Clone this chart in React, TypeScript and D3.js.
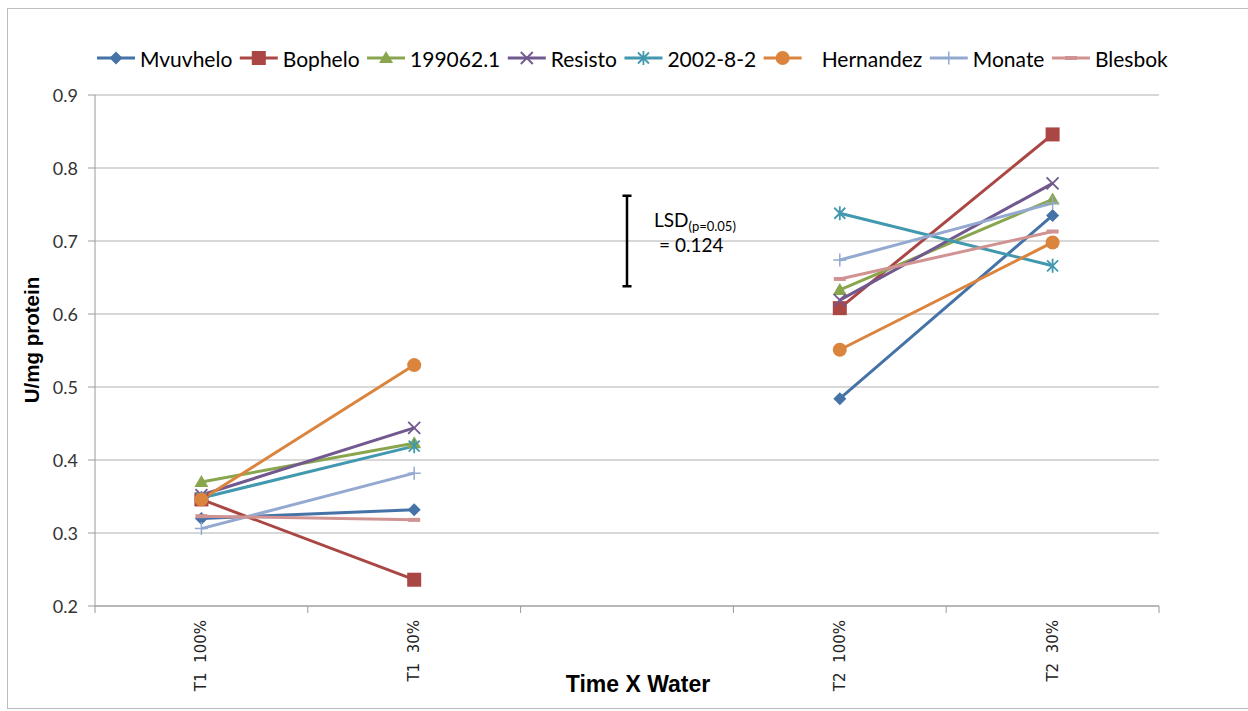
import React from "react";
import * as d3 from "d3";

// Category slots along the x axis (the blank slot separates the two times)
const categories = ["T1  100%", "T1  30%", "", "T2  100%", "T2  30%"];
const yTicks = [0.2, 0.3, 0.4, 0.5, 0.6, 0.7, 0.8, 0.9];

// Enzyme activity (U/mg protein) per cultivar, one value per category slot
const mvuvhelo = [0.32, 0.332, null, 0.484, 0.735];
const bophelo = [0.346, 0.236, null, 0.608, 0.846];
const line199062 = [0.37, 0.423, null, 0.633, 0.757];
const resisto = [0.352, 0.444, null, 0.619, 0.779];
const line2002 = [0.348, 0.419, null, 0.738, 0.666];
const hernandez = [0.346, 0.53, null, 0.551, 0.698];
const monate = [0.306, 0.382, null, 0.674, 0.752];
const blesbok = [0.323, 0.318, null, 0.648, 0.713];

const seriesNames = ["Mvuvhelo", "Bophelo", "199062.1", "Resisto", "2002-8-2", "Hernandez", "Monate", "Blesbok"];
const seriesValues = [mvuvhelo, bophelo, line199062, resisto, line2002, hernandez, monate, blesbok];
const seriesColors = ["#4572A7", "#AA4643", "#89A54E", "#71588F", "#4198AF", "#DB843D", "#93A9CF", "#D19392"];
const seriesMarkers = ["diamond", "square", "triangle", "x", "star", "circle", "plus", "dash"];

// Least significant difference bar
const lsdValue = 0.124;
const lsdCenter = 0.7;

const W = 1248;
const H = 711;
const plot = { left: 95, right: 1159, top: 95, bottom: 606 };

function Marker({ type, x, y, color }: { type: string; x: number; y: number; color: string }) {
  switch (type) {
    case "diamond": {
      const r = 6.5;
      return <path d={`M${x},${y - r}L${x + r},${y}L${x},${y + r}L${x - r},${y}Z`} fill={color} />;
    }
    case "square":
      return <rect x={x - 7} y={y - 7} width={14} height={14} fill={color} />;
    case "triangle":
      return <path d={`M${x},${y - 7}L${x + 7},${y + 5}L${x - 7},${y + 5}Z`} fill={color} />;
    case "x": {
      const r = 6;
      return (
        <path d={`M${x - r},${y - r}L${x + r},${y + r}M${x - r},${y + r}L${x + r},${y - r}`} stroke={color} strokeWidth={1.8} />
      );
    }
    case "star": {
      const r = 5.5;
      return (
        <path
          d={`M${x - r},${y - r}L${x + r},${y + r}M${x - r},${y + r}L${x + r},${y - r}M${x},${y - 7}L${x},${y + 7}`}
          stroke={color}
          strokeWidth={1.8}
        />
      );
    }
    case "circle":
      return <circle cx={x} cy={y} r={7} fill={color} />;
    case "plus": {
      const r = 6.5;
      return <path d={`M${x - r},${y}L${x + r},${y}M${x},${y - r}L${x},${y + r}`} stroke={color} strokeWidth={1.5} />;
    }
    case "dash":
      return <rect x={x - 6} y={y - 2} width={12} height={4} fill={color} />;
    default:
      return null;
  }
}

function measure(text: string, font: string): number {
  const ctx = document.createElement("canvas").getContext("2d");
  if (!ctx) return text.length * 9;
  ctx.font = font;
  return ctx.measureText(text).width;
}

export default function App() {
  const x = d3
    .scaleBand<number>()
    .domain(d3.range(categories.length))
    .range([plot.left, plot.right])
    .paddingInner(0)
    .paddingOuter(0);
  const bw = x.bandwidth();
  const cx = (i: number) => (x(i) as number) + bw / 2;
  const y = d3.scaleLinear().domain([0.2, 0.9]).range([plot.bottom, plot.top]);

  const line = d3
    .line<number | null>()
    .defined((v) => v != null)
    .x((_, i) => cx(i))
    .y((v) => y(v as number));

  // Legend laid out left to right from measured text widths
  const legendSize = 21;
  const legendFont = `${legendSize}px Lato`;
  const legendItems: { name: string; lx: number; tx: number; color: string; marker: string }[] = [];
  let cursor = 97;
  seriesNames.forEach((name, i) => {
    const extra = name === "Hernandez" ? 15 : 0;
    const tx = cursor + 43 + extra;
    legendItems.push({ name, lx: cursor, tx, color: seriesColors[i], marker: seriesMarkers[i] });
    cursor = tx + measure(name, legendFont) + 7.5;
  });
  const legendY = 58;

  const lsdTop = y(lsdCenter + lsdValue / 2);
  const lsdBottom = y(lsdCenter - lsdValue / 2);
  const lsdX = 627;

  return (
    <div style={{ position: "absolute", left: 0, top: 0 }}>
      <svg width={W} height={H} style={{ display: "block", background: "#fff" }}>
        <rect x={7.5} y={8.5} width={1300} height={700} fill="none" stroke="#BDBDBD" strokeWidth={1} />

        {/* gridlines */}
        {yTicks.map((t) => (
          <line key={t} x1={plot.left} x2={plot.right} y1={y(t)} y2={y(t)} stroke="#B0B0B0" strokeWidth={1} />
        ))}
        {/* y axis */}
        <line x1={plot.left} x2={plot.left} y1={plot.top} y2={plot.bottom} stroke="#9A9A9A" strokeWidth={1} />
        {yTicks.map((t) => (
          <g key={"yt" + t}>
            <line x1={plot.left - 7} x2={plot.left} y1={y(t)} y2={y(t)} stroke="#9A9A9A" />
            <text
              x={78}
              y={y(t)}
              textAnchor="end"
              dominantBaseline="central"
              fontFamily="Lato, 'Open Sans', sans-serif"
              fontSize={18}
              fill="#333"
            >
              {t.toFixed(1)}
            </text>
          </g>
        ))}
        {/* x axis */}
        <line x1={plot.left} x2={plot.right} y1={plot.bottom} y2={plot.bottom} stroke="#9A9A9A" strokeWidth={1} />
        {d3.range(categories.length + 1).map((i) => {
          const xx = i < categories.length ? (x(i) as number) : plot.right;
          return <line key={"xt" + i} x1={xx} x2={xx} y1={plot.bottom} y2={plot.bottom + 7} stroke="#9A9A9A" />;
        })}
        {categories.map((c, i) =>
          c ? (
            <text
              key={"xl" + i}
              transform={`translate(${cx(i)},620) rotate(-90)`}
              textAnchor="end"
              dominantBaseline="central"
              fontFamily="'DejaVu Sans', Verdana, sans-serif"
              fontSize={15}
              fill="#222"
              style={{ whiteSpace: "pre" }}
            >
              {c}
            </text>
          ) : null
        )}

        {/* axis titles */}
        <text
          transform="translate(39,340) rotate(-90)"
          textAnchor="middle"
          fontFamily="'Liberation Sans', Arial, sans-serif"
          fontWeight="bold"
          fontSize={20.5}
          fill="#000"
        >
          U/mg protein
        </text>
        <text
          x={638}
          y={692}
          textAnchor="middle"
          fontFamily="'Liberation Sans', Arial, sans-serif"
          fontWeight="bold"
          fontSize={23}
          fill="#000"
        >
          Time X Water
        </text>

        {/* series lines */}
        {seriesValues.map((vals, si) => (
          <path
            key={"l" + si}
            d={line(vals) || ""}
            fill="none"
            stroke={seriesColors[si]}
            strokeWidth={3}
            strokeLinejoin="round"
          />
        ))}
        {/* series markers */}
        {seriesValues.map((vals, si) => (
          <g key={"m" + si}>
            {vals.map((v, i) =>
              v == null ? null : (
                <Marker key={i} type={seriesMarkers[si]} x={cx(i)} y={y(v)} color={seriesColors[si]} />
              )
            )}
          </g>
        ))}

        {/* LSD bar */}
        <g stroke="#000" strokeWidth={2.5}>
          <line x1={lsdX} x2={lsdX} y1={lsdTop} y2={lsdBottom} />
          <line x1={lsdX - 4.5} x2={lsdX + 4.5} y1={lsdTop} y2={lsdTop} />
          <line x1={lsdX - 4.5} x2={lsdX + 4.5} y1={lsdBottom} y2={lsdBottom} />
        </g>
        <text x={654} y={227} fontFamily="Lato, 'Open Sans', sans-serif" fontSize={19} fill="#000">
          LSD
          <tspan fontSize={13} dy={4}>
            (p=0.05)
          </tspan>
        </text>
        <text x={659} y={252} fontFamily="Lato, 'Open Sans', sans-serif" fontSize={19} fill="#000">
          = 0.124
        </text>

        {/* legend */}
        {legendItems.map((it) => (
          <g key={"lg" + it.name}>
            <line x1={it.lx} x2={it.lx + 38} y1={legendY} y2={legendY} stroke={it.color} strokeWidth={3} />
            <Marker type={it.marker} x={it.lx + 19} y={legendY} color={it.color} />
            <text
              x={it.tx}
              y={legendY}
              dominantBaseline="central"
              fontFamily="Lato, 'Open Sans', sans-serif"
              fontSize={legendSize}
              fill="#000"
            >
              {it.name}
            </text>
          </g>
        ))}
      </svg>
    </div>
  );
}
